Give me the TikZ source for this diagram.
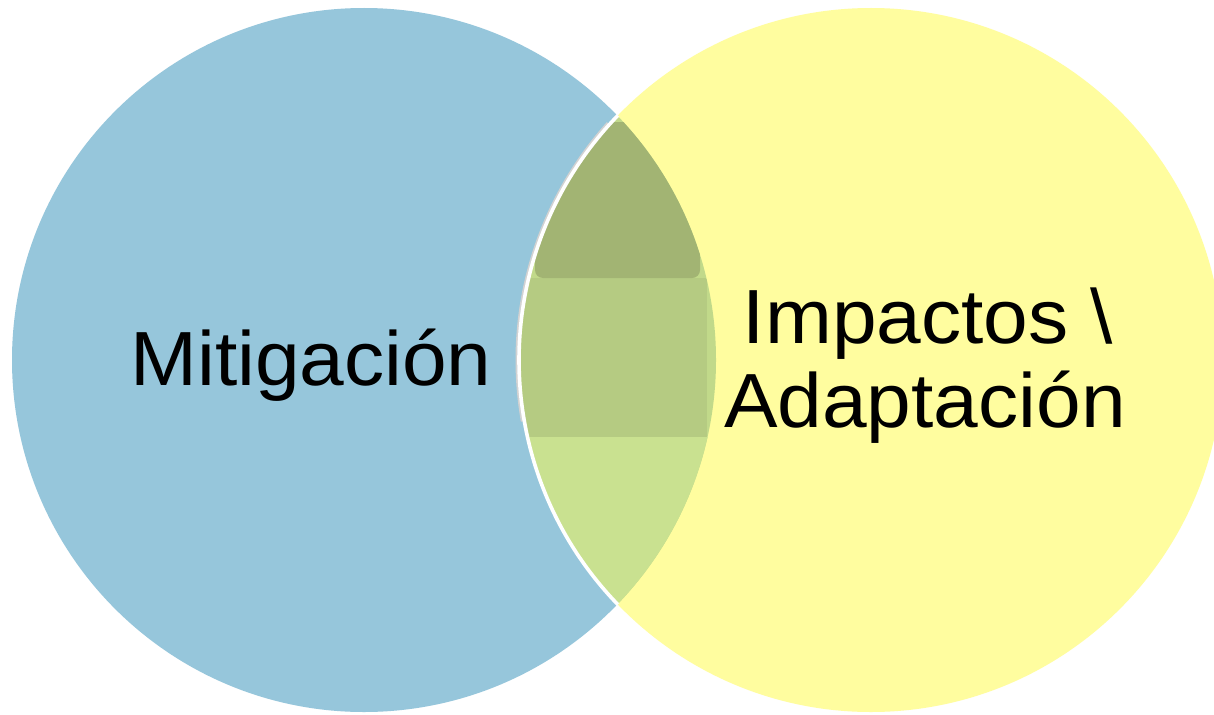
\documentclass[tikz,border=0pt]{standalone}
\usepackage{fontspec}
\setmainfont[FakeStretch=1.045]{Liberation Sans}
\definecolor{cblue}{HTML}{96C6DB}
\definecolor{cyellow}{HTML}{FFFD9F}
\definecolor{gdark}{HTML}{A2B473}
\definecolor{gmid}{HTML}{B5CB82}
\definecolor{glight}{HTML}{C9E190}
\definecolor{gedge}{HTML}{C1D98A}
\tikzset{
  lbl/.style={font=\fontsize{38.4}{42}\selectfont, text=black, inner sep=0pt, anchor=base},
}
\begin{document}
\begin{tikzpicture}[x=0.5pt,y=0.5pt]
\useasboundingbox (0,0) rectangle (1214,714);
\clip (0,0) rectangle (1214,714);
\fill[white] (0,0) rectangle (1214,714);
\coordinate (L) at (364,354);
\coordinate (R) at (871,354);
% circles
\fill[cblue] (L) circle (352);
\fill[cyellow] (R) circle (352);
% overlap bands
\begin{scope}
  \clip (L) circle (352);
  \clip (R) circle (352);
  \fill[gedge] (500,0) rectangle (740,714);
  \fill[glight] (500,0) rectangle (740,277);
  \fill[gmid] (500,277) rectangle (707,436);
  \fill[gdark, rounded corners=4pt] (535,436) rectangle (700,592);
\end{scope}
% white rim with soft shadow (only along the overlap)
\begin{scope}
  \clip (L) circle (356);
  \draw[gray!35, line width=1pt] (R) ++(138:354.5) arc[start angle=138, end angle=190, radius=354.5];
  \draw[white, line width=1.8pt] (R) ++(136:352) arc[start angle=136, end angle=224, radius=352];
\end{scope}
% labels
\node[lbl] (mit) at (311,329) {Mitigación};
\node[lbl] (imp) at (928,371) {Impactos \textbackslash};
\node[lbl] (ada) at (925,287) {Adaptación};
\end{tikzpicture}
\end{document}
